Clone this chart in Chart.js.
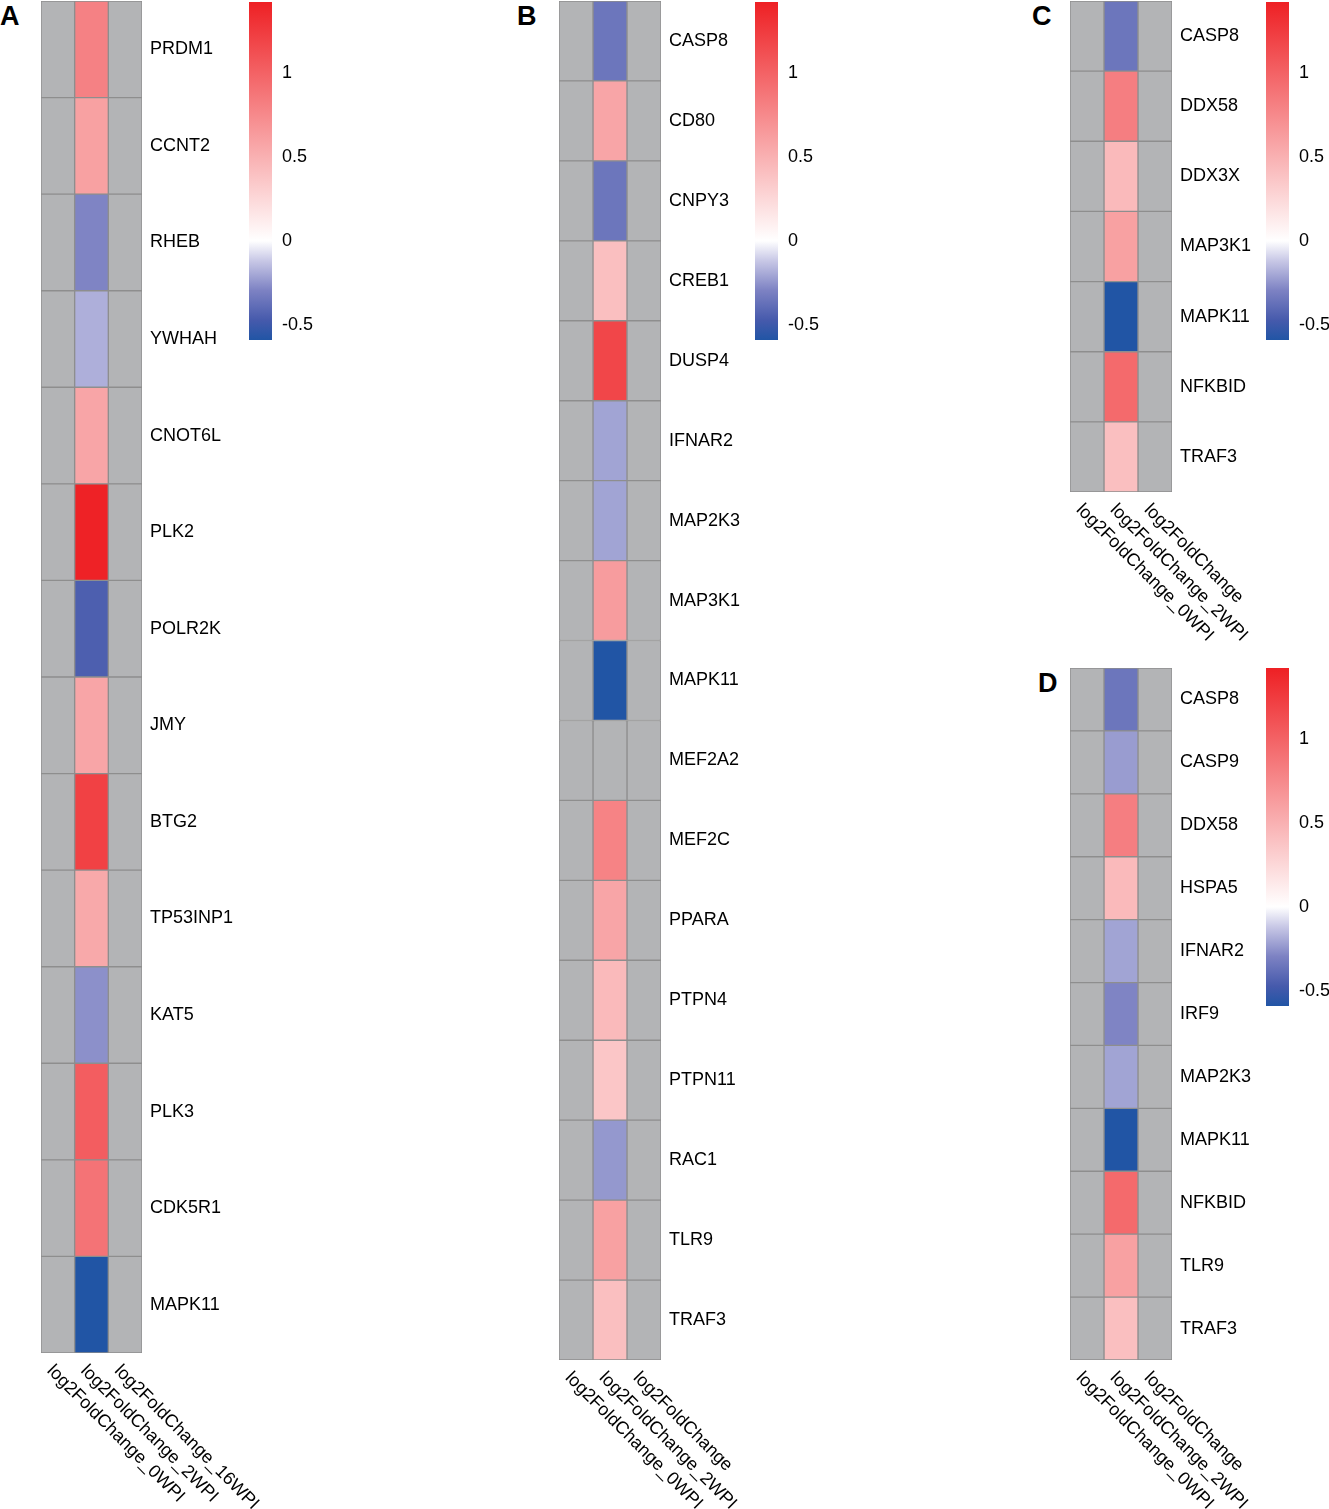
<!DOCTYPE html>
<html>
<head>
<meta charset="utf-8">
<title>log2FoldChange heatmaps</title>
<script src="https://cdn.jsdelivr.net/npm/chart.js@4.4.1/dist/chart.umd.min.js"></script>
<style>
  html, body { margin: 0; padding: 0; background: #fff; }
  #page { position: relative; width: 1329px; height: 1509px; overflow: hidden; font-family: "Liberation Sans", Arial, sans-serif; }
  #page canvas { position: absolute; }
  .letter { position: absolute; font-weight: bold; font-size: 27px; line-height: 1; color: #000; }
</style>
</head>
<body>
<div id="page">
  <div class="letter" style="left:0px;top:3px">A</div>
  <div class="letter" style="left:517px;top:3px">B</div>
  <div class="letter" style="left:1032px;top:3px">C</div>
  <div class="letter" style="left:1038px;top:670px">D</div>
  <canvas id="heatA"></canvas>
  <canvas id="heatB"></canvas>
  <canvas id="heatC"></canvas>
  <canvas id="heatD"></canvas>
  <canvas id="barA"></canvas>
  <canvas id="barB"></canvas>
  <canvas id="barC"></canvas>
  <canvas id="barD"></canvas>
</div>
<script>
// column headers (the last one is cut short in panels B, C and D)
const columnsA = ['log2FoldChange_0WPI', 'log2FoldChange_2WPI', 'log2FoldChange_16WPI'];
const columnsBCD = ['log2FoldChange_0WPI', 'log2FoldChange_2WPI', 'log2FoldChange'];

// panel A
const genesA = ['PRDM1', 'CCNT2', 'RHEB', 'YWHAH', 'CNOT6L', 'PLK2', 'POLR2K', 'JMY', 'BTG2', 'TP53INP1', 'KAT5', 'PLK3', 'CDK5R1', 'MAPK11'];
const wpi0A = [null, null, null, null, null, null, null, null, null, null, null, null, null, null];
const wpi2A = [0.80, 0.60, -0.29, -0.18, 0.57, 1.41, -0.45, 0.57, 1.21, 0.55, -0.26, 1.03, 0.89, -0.59];
const wpi16A = [null, null, null, null, null, null, null, null, null, null, null, null, null, null];

// panel B
const genesB = ['CASP8', 'CD80', 'CNPY3', 'CREB1', 'DUSP4', 'IFNAR2', 'MAP2K3', 'MAP3K1', 'MAPK11', 'MEF2A2', 'MEF2C', 'PPARA', 'PTPN4', 'PTPN11', 'RAC1', 'TLR9', 'TRAF3'];
const wpi0B = [null, null, null, null, null, null, null, null, null, null, null, null, null, null, null, null, null];
const wpi2B = [-0.35, 0.57, -0.35, 0.41, 1.18, -0.21, -0.21, 0.63, -0.59, null, 0.79, 0.57, 0.44, 0.36, -0.24, 0.60, 0.41];
const wpi16B = [null, null, null, null, null, null, null, null, null, null, null, null, null, null, null, null, null];

// panel C
const genesC = ['CASP8', 'DDX58', 'DDX3X', 'MAP3K1', 'MAPK11', 'NFKBID', 'TRAF3'];
const wpi0C = [null, null, null, null, null, null, null];
const wpi2C = [-0.35, 0.82, 0.44, 0.60, -0.59, 0.95, 0.41];
const wpi16C = [null, null, null, null, null, null, null];

// panel D
const genesD = ['CASP8', 'CASP9', 'DDX58', 'HSPA5', 'IFNAR2', 'IRF9', 'MAP2K3', 'MAPK11', 'NFKBID', 'TLR9', 'TRAF3'];
const wpi0D = [null, null, null, null, null, null, null, null, null, null, null];
const wpi2D = [-0.35, -0.23, 0.82, 0.44, -0.21, -0.29, -0.21, -0.59, 0.95, 0.60, 0.41];
const wpi16D = [null, null, null, null, null, null, null, null, null, null, null];

// colour key
const colorbarTicks = [-0.5, 0, 0.5, 1];
const scaleMin = -0.59;
const scaleMax = 1.42;

// ramps from 0 (white) out to the ends of the key
const NEG_RAMP = [[0, [255, 255, 255]], [0.2, [200, 200, 230]], [0.5, [125, 130, 195]], [0.8, [70, 90, 172]], [1, [33, 85, 165]]];
const POS_RAMP = [[0, [255, 255, 255]], [1, [238, 32, 36]]];
const NA_COLOR = '#b3b4b6';
const CELL_BORDER = '#8e8e8e';
const FONT = '"Liberation Sans", Arial, sans-serif';

Chart.defaults.font.family = FONT;
Chart.defaults.color = '#000';
Chart.defaults.animation = false;

function rampColor(ramp, t) {
  for (let i = 1; i < ramp.length; i += 1) {
    const [t0, c0] = ramp[i - 1];
    const [t1, c1] = ramp[i];
    if (t <= t1 || i === ramp.length - 1) {
      const f = Math.max(0, Math.min(1, (t - t0) / (t1 - t0)));
      const c = c0.map((v, k) => Math.round(v + (c1[k] - v) * f));
      return `rgb(${c[0]},${c[1]},${c[2]})`;
    }
  }
  return '#ffffff';
}

function valueColor(v) {
  if (v === null || v === undefined) {
    return NA_COLOR;
  }
  if (v < 0) {
    return rampColor(NEG_RAMP, Math.min(1, v / scaleMin));
  }
  return rampColor(POS_RAMP, Math.min(1, v / scaleMax));
}

// rotated column headers under the cells, placed from the x scale
const columnLabels = {
  id: 'columnLabels',
  afterDraw(chart, args, opts) {
    const { ctx, chartArea } = chart;
    const xScale = chart.scales.x;
    ctx.save();
    ctx.font = `18px ${FONT}`;
    ctx.fillStyle = '#000';
    ctx.textAlign = 'left';
    ctx.textBaseline = 'middle';
    opts.labels.forEach((label, i) => {
      const x = xScale.getPixelForValue(i + 0.5) - 8;
      const y = chartArea.bottom + 15;
      ctx.save();
      ctx.translate(x, y);
      ctx.rotate(Math.PI / 4);
      ctx.fillText(label, 0, 0);
      ctx.restore();
    });
    ctx.restore();
  },
};

function placeCanvas(id, box) {
  const canvas = document.getElementById(id);
  canvas.width = box.w;
  canvas.height = box.h;
  canvas.style.left = `${box.x}px`;
  canvas.style.top = `${box.y}px`;
  canvas.style.width = `${box.w}px`;
  canvas.style.height = `${box.h}px`;
  return canvas;
}

// the axis on the right keeps a fixed width and asks for no extra room above/below
function fixAxis(width) {
  return (scale) => {
    scale.width = width;
    scale.paddingTop = 0;
    scale.paddingBottom = 0;
  };
}

// box: canvas position; cells: width/top/bottom of the cell block inside the canvas
function makeHeatmap(id, box, cells, genes, columns, series) {
  const canvas = placeCanvas(id, box);
  const datasets = series.map((values, c) => ({
    label: columns[c],
    data: values.map(() => [c, c + 1]),
    backgroundColor: values.map(valueColor),
    borderColor: CELL_BORDER,
    borderWidth: 1,
    borderSkipped: false,
    barPercentage: 1,
    categoryPercentage: 1,
    grouped: false,
  }));
  return new Chart(canvas, {
    type: 'bar',
    data: { labels: genes, datasets },
    plugins: [columnLabels],
    options: {
      responsive: false,
      indexAxis: 'y',
      layout: {
        padding: { left: 0, right: 0, top: cells.top, bottom: box.h - cells.bottom },
      },
      scales: {
        x: { type: 'linear', min: 0, max: 3, display: false },
        y: {
          type: 'category',
          position: 'right',
          offset: true,
          grid: { display: false, drawTicks: false },
          border: { display: false },
          ticks: { padding: 8, color: '#000', font: { size: 18 } },
          afterFit: fixAxis(box.w - cells.w),
        },
      },
      plugins: {
        legend: { display: false },
        tooltip: { enabled: false },
        columnLabels: { labels: columns },
      },
    },
  });
}

function makeColorbar(id, box, top, bottom) {
  const canvas = placeCanvas(id, box);
  return new Chart(canvas, {
    type: 'bar',
    data: {
      labels: ['key'],
      datasets: [{
        data: [[scaleMin, scaleMax]],
        backgroundColor: (context) => {
          const { chart } = context;
          if (!chart.chartArea) {
            return null;
          }
          const y = chart.scales.y;
          const g = chart.ctx.createLinearGradient(0, y.getPixelForValue(scaleMin), 0, y.getPixelForValue(scaleMax));
          const zero = (0 - scaleMin) / (scaleMax - scaleMin);
          NEG_RAMP.forEach(([t]) => g.addColorStop(zero * (1 - t), rampColor(NEG_RAMP, t)));
          POS_RAMP.forEach(([t]) => g.addColorStop(zero + (1 - zero) * t, rampColor(POS_RAMP, t)));
          return g;
        },
        borderWidth: 0,
        barPercentage: 1,
        categoryPercentage: 1,
      }],
    },
    options: {
      responsive: false,
      layout: { padding: { left: 0, right: 0, top, bottom: box.h - bottom } },
      scales: {
        x: { display: false, offset: true },
        y: {
          type: 'linear',
          position: 'right',
          min: scaleMin,
          max: scaleMax,
          grid: { display: false, drawTicks: false },
          border: { display: false },
          afterBuildTicks: (scale) => { scale.ticks = colorbarTicks.map((v) => ({ value: v })); },
          ticks: { padding: 10, color: '#000', font: { size: 18 }, callback: (v) => String(v) },
          afterFit: fixAxis(box.w - 23),
        },
      },
      plugins: { legend: { display: false }, tooltip: { enabled: false } },
    },
  });
}

makeHeatmap('heatA', { x: 41, y: 0, w: 240, h: 1509 }, { w: 101, top: 1, bottom: 1353 }, genesA, columnsA, [wpi0A, wpi2A, wpi16A]);
makeHeatmap('heatB', { x: 559, y: 0, w: 195, h: 1509 }, { w: 102, top: 1, bottom: 1360 }, genesB, columnsBCD, [wpi0B, wpi2B, wpi16B]);
makeHeatmap('heatC', { x: 1070, y: 0, w: 195, h: 660 }, { w: 102, top: 1, bottom: 492 }, genesC, columnsBCD, [wpi0C, wpi2C, wpi16C]);
makeHeatmap('heatD', { x: 1070, y: 660, w: 195, h: 849 }, { w: 102, top: 8, bottom: 700 }, genesD, columnsBCD, [wpi0D, wpi2D, wpi16D]);

makeColorbar('barA', { x: 249, y: 0, w: 80, h: 345 }, 2, 340);
makeColorbar('barB', { x: 755, y: 0, w: 80, h: 345 }, 2, 340);
makeColorbar('barC', { x: 1266, y: 0, w: 63, h: 345 }, 2, 340);
makeColorbar('barD', { x: 1266, y: 666, w: 63, h: 345 }, 2, 340);
</script>
</body>
</html>
